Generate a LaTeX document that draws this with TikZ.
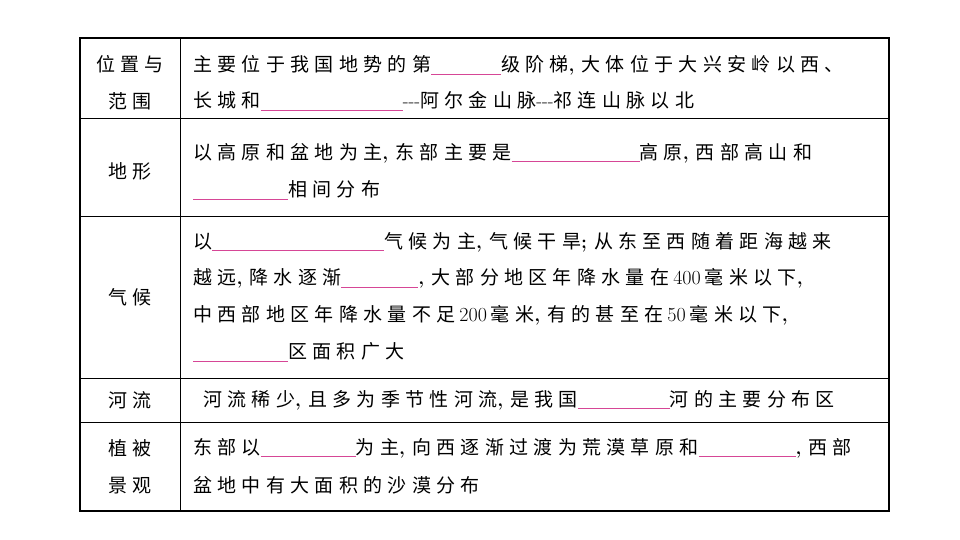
\documentclass[tikz,border=0pt]{standalone}
\usepackage{fontspec}
\setmainfont{Noto Sans CJK SC}[LetterSpace=28]
\newfontfamily\lmr{Latin Modern Roman}
\definecolor{blankc}{RGB}{214,70,150}
\newcommand*{\blank}[1]{\textcolor{blankc}{\rule[-3pt]{#1pt}{0.7pt}}}
\newcommand*{\nm}[1]{\hspace{4pt}{\lmr\fontsize{20}{20}\selectfont #1}\hspace{4pt}}
\newcommand*{\cm}{{\lmr\bfseries ,}\hspace{7pt}}
\newcommand*{\dash}{{\lmr ---}}

\begin{document}
\begin{tikzpicture}[
  x=1pt, y=-1pt,
  cell text/.style={anchor=west, inner sep=0pt, font=\fontsize{19}{20}\selectfont},
  head text/.style={align=center, inner sep=0pt, font=\fontsize{19}{37}\selectfont},
  rule line/.style={line width=0.8pt},
]
  \useasboundingbox (0,0) rectangle (960,540);

  % table frame
  \draw[line width=1.4pt] (80,38) rectangle (889,511);
  \draw[rule line] (180,38) -- (180,511);
  \foreach \y in {118, 216, 378, 422} {
    \draw[rule line] (80,\y) -- (889,\y);
  }

  % left column
  \node[head text] (h1) at (130,83) {位置与\\范围};
  \node[head text] (h2) at (130,171) {地形};
  \node[head text] (h3) at (130,297) {气候};
  \node[head text] (h4) at (130,400) {河流};
  \node[head text] (h5) at (130,467) {植被\\景观};

  % right column
  \node[cell text] (a1) at (193,65) {主要位于我国地势的第\blank{70}级阶梯\cm 大体位于大兴安岭以西、};
  \node[cell text] (a2) at (193,101) {长城和\blank{142}\dash 阿尔金山脉\dash 祁连山脉以北};
  \node[cell text] (b1) at (193,153) {以高原和盆地为主\cm 东部主要是\blank{128}高原\cm 西部高山和};
  \node[cell text] (b2) at (193,190) {\blank{95}相间分布};
  \node[cell text] (c1) at (193,242) {以\blank{172}气候为主\cm 气候干旱{\lmr\bfseries ;}\hspace{7pt}从东至西随着距海越来};
  \node[cell text] (c2) at (193,278) {越远\cm 降水逐渐\blank{77}\cm 大部分地区年降水量在\nm{400}毫米以下\cm};
  \node[cell text] (c3) at (193,315) {中西部地区年降水量不足\nm{200}毫米\cm 有的甚至在\nm{50}毫米以下\cm};
  \node[cell text] (c4) at (193,352) {\blank{95}区面积广大};
  \node[cell text] (d1) at (203,400) {河流稀少\cm 且多为季节性河流\cm 是我国\blank{92}河的主要分布区};
  \node[cell text] (e1) at (193,448) {东部以\blank{95}为主\cm 向西逐渐过渡为荒漠草原和\blank{97}\cm 西部};
  \node[cell text] (e2) at (193,485) {盆地中有大面积的沙漠分布};
\end{tikzpicture}
\end{document}
